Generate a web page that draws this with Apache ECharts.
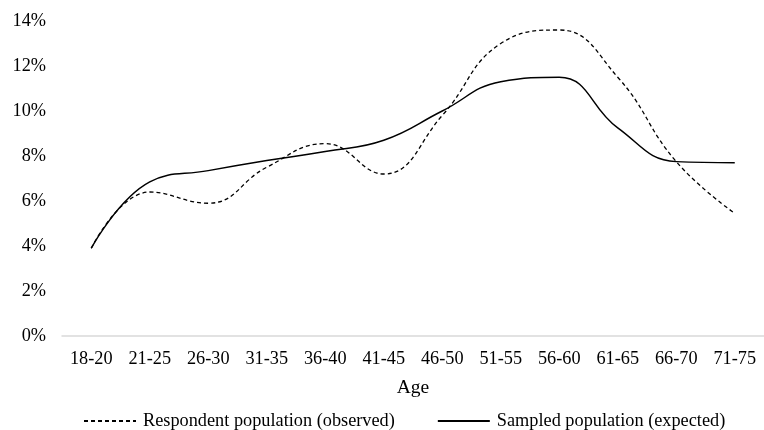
<!DOCTYPE html>
<html>
<head>
<meta charset="utf-8">
<script src="https://cdn.jsdelivr.net/npm/echarts@6/dist/echarts.min.js"></script>
<style>html,body{margin:0;padding:0;background:#fff}#c{width:764px;height:430px}</style>
</head>
<body>
<div id="c"></div>
<script>
const categories = ['18-20','21-25','26-30','31-35','36-40','41-45','46-50','51-55','56-60','61-65','66-70','71-75'];
const observed = [3.9, 6.4, 5.9, 7.5, 8.55, 7.2, 9.8, 13.0, 13.6, 11.5, 7.75, 5.45];
const expected = [3.9, 6.85, 7.35, 7.8, 8.2, 8.7, 10.0, 11.3, 11.5, 9.25, 7.75, 7.7];
const yTicks = { min: 0, max: 14, interval: 2 };
const seriesNames = ['Respondent population (observed)', 'Sampled population (expected)'];

const font = "'Liberation Serif', 'Times New Roman', serif";
const chart = echarts.init(document.getElementById('c'));
chart.setOption({
  animation: false,
  backgroundColor: '#fff',
  grid: { left: 62, top: 21, width: 705, bottom: 94, containLabel: false },
  xAxis: {
    type: 'category', data: categories, boundaryGap: true,
    name: 'Age', nameLocation: 'middle', nameGap: 42,
    nameTextStyle: { fontFamily: font, fontSize: 19.5, color: '#000' },
    axisLine: { lineStyle: { color: '#d9d9d9', width: 1.5 } },
    axisTick: { show: false },
    axisLabel: { fontFamily: font, fontSize: 18.3, color: '#000', margin: 14 }
  },
  yAxis: {
    type: 'value', min: yTicks.min, max: yTicks.max, interval: yTicks.interval,
    axisLine: { show: false }, axisTick: { show: false },
    splitLine: { show: false },
    axisLabel: { fontFamily: font, fontSize: 18.3, color: '#000', margin: 16, formatter: v => v + '%' }
  },
  legend: {
    bottom: 0, left: 83, padding: 0, itemWidth: 52, itemHeight: 10, itemGap: 42,
    itemStyle: { opacity: 0 },
    textStyle: { fontFamily: font, fontSize: 18.3, color: '#000', padding: [0, 0, 0, 2] },
    data: seriesNames
  },
  series: [
    { name: seriesNames[0], type: 'line', data: observed, smooth: 0.45, showSymbol: false, symbol: 'none',
      lineStyle: { color: '#000', width: 1.3, type: [4, 3] }, itemStyle: { color: '#000' } },
    { name: seriesNames[1], type: 'line', data: expected, smooth: 0.45, showSymbol: false, symbol: 'none',
      lineStyle: { color: '#000', width: 1.5, type: 'solid' }, itemStyle: { color: '#000' } }
  ]
});
</script>
</body>
</html>
